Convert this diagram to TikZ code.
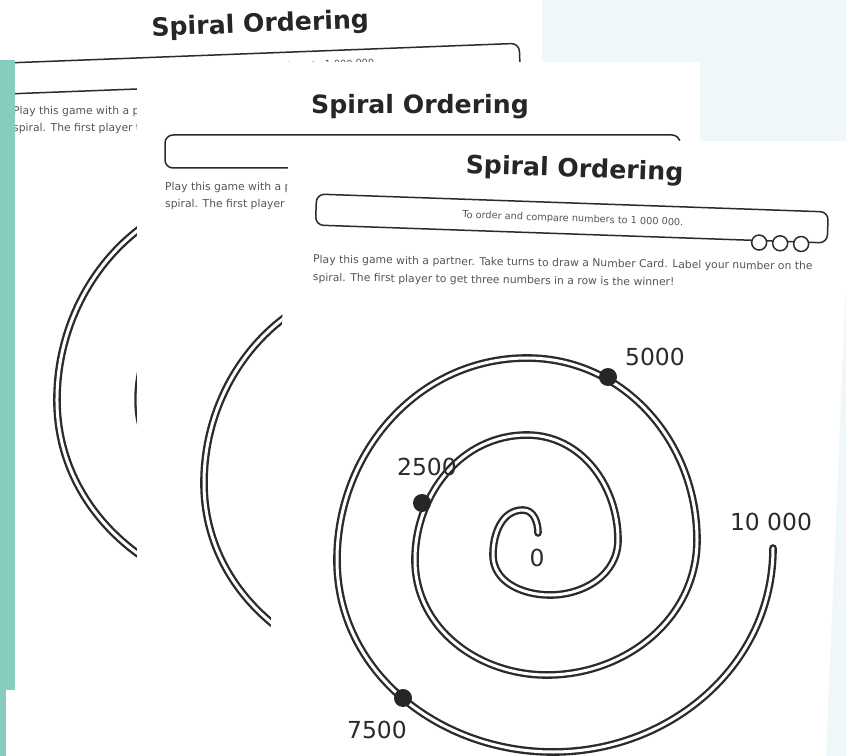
\documentclass[tikz,border=0pt]{standalone}
\usepackage{fontspec}
\setmainfont{DejaVu Sans}
\usetikzlibrary{positioning}
\definecolor{stripteal}{HTML}{88CBBF}
\definecolor{paleblue}{HTML}{F0F7FA}
\definecolor{inkgray}{HTML}{2B2B2B}
\definecolor{textgray}{HTML}{555555}

% centre line of the spiral track, from the hook outwards
\newcommand{\spiraltrack}{%
  (538,533) to[out=90,in=0] (523,510) to[out=180,in=90] (493,555)
  to[out=270,in=180] (550,595) to[out=0,in=270] (618,540)
  to[out=90,in=0] (527,435) to[out=180,in=90] (415,560)
  to[out=270,in=180] (547,675) to[out=0,in=270] (697,540)
  to[out=90,in=0] (527,358) to[out=180,in=90] (337,560)
  to[out=270,in=180] (553,752) to[out=0,in=270] (773,548)}

\begin{document}
\begin{tikzpicture}[
    x=0.3mm, y=-0.3mm,
    every node/.style={inner sep=0pt},
    sheet/.style={fill=white, draw=none},
    track/.style={draw=inkgray, line width=0.7mm, double=white, double distance=0.9mm, line cap=round},
    dot/.style={circle, fill=black!85, minimum size=5.4mm, inner sep=0pt},
    numlabel/.style={font=\fontsize{20}{22}\selectfont, text=inkgray},
    heading/.style={font=\bfseries\fontsize{21.5}{24}\selectfont, text=black!85},
    aimbox/.style={draw=inkgray, line width=0.45mm, rounded corners=2.4mm},
    aimtext/.style={font=\fontsize{8.3}{10}\selectfont, text=textgray},
    ruletext/.style={font=\fontsize{9.2}{11}\selectfont, text=textgray, anchor=west}
]
    \useasboundingbox (0,0) rectangle (846,756);
    \fill[white] (0,0) rectangle (846,756);
    \fill[paleblue] (542,0) rectangle (846,756);

    % Back sheet
    \fill[sheet] (0,0) rectangle (542,690);
    \begin{scope}[rotate around={2.2:(267,70)}, every node/.append style={transform shape}]
        \node[heading] (title1) at (262,25) {Spiral Ordering};
        \draw[aimbox] (5,53) rectangle (520,84);
        \node[aimtext] (aim1) at (267,67.5) {To order and compare numbers to 1 000 000.};
    \end{scope}
    \node[ruletext] (rule1a) at (13,112) {Play this game with a partner.};
    \node[ruletext] (rule1b) at (13,129) {spiral. The first player to get};
    \begin{scope}[shift={(-293.5,-182.4)}, scale=1.04]
        \draw[track] \spiraltrack;
    \end{scope}

    % Teal edge
    \fill[stripteal] (0,60) rectangle (15,690);
    \fill[stripteal] (0,690) rectangle (6,756);

    % Middle sheet
    \fill[sheet] (137,62) rectangle (700,756);
    \node[heading] (title2) at (420,107) {Spiral Ordering};
    \draw[aimbox] (165,135) rectangle (680,168);
    \node[ruletext] (rule2a) at (165,188) {Play this game with a partner.};
    \node[ruletext] (rule2b) at (165,205) {spiral. The first player to get};
    \begin{scope}[shift={(-133,-77)}]
        \draw[track] \spiraltrack;
    \end{scope}

    % Front sheet
    \fill[sheet] (289,141) -- (852,141) -- (826,756) -- (266,756) -- cycle;
    \begin{scope}[rotate around={-2:(572,215)}, every node/.append style={transform shape}]
        \node[heading] (title3) at (573,170) {Spiral Ordering};
        \draw[aimbox] (316,203) rectangle (828,234);
        \foreach \cx in {760,781,802}
            \draw[aimbox, fill=white] (\cx,236) circle[radius=7.5];
        \node[aimtext] (aim3) at (573,219) {To order and compare numbers to 1 000 000.};
    \end{scope}
    \begin{scope}[rotate around={-0.8:(313,260)}, every node/.append style={transform shape}]
        \node[ruletext] (rule3a) at (313,260) {Play this game with a partner. Take turns to draw a Number Card. Label your number on the};
        \node[ruletext] (rule3b) at (313,278) {spiral. The first player to get three numbers in a row is the winner!};
    \end{scope}

    % Spiral with its marks
    \draw[track] \spiraltrack;
    \node[dot] (dot2500) at (422,503) {};
    \node[dot] (dot5000) at (608,377) {};
    \node[dot] (dot7500) at (403,698) {};
    \node[numlabel] (lab0) at (537,558) {0};
    \node[numlabel] (lab2500) at (427,467) {2500};
    \node[numlabel] (lab5000) at (655,357) {5000};
    \node[numlabel] (lab7500) at (377,730) {7500};
    \node[numlabel] (lab10000) at (771,522) {10 000};
\end{tikzpicture}
\end{document}
